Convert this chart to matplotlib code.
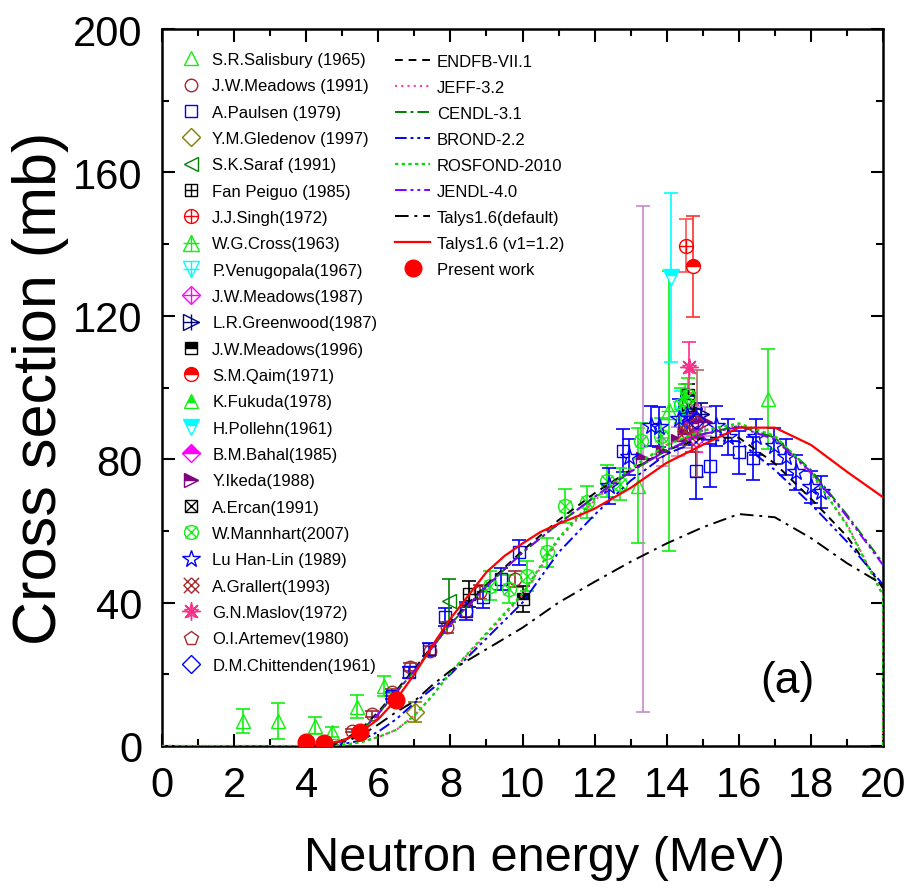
import matplotlib
matplotlib.use('Agg')
import matplotlib.pyplot as plt
from matplotlib.lines import Line2D
from matplotlib.legend_handler import HandlerTuple
from matplotlib.path import Path

FONT = ['Liberation Sans', 'DejaVu Sans']
plt.rcParams['font.family'] = FONT

# ---------------- experimental data (E in MeV, sigma in mb) ----------------
salisbury_E = [2.25, 3.23, 4.25, 4.71, 5.41, 6.15, 13.2, 16.8]
salisbury_mb = [7.0, 7.0, 5.7, 3.9, 11.0, 16.8, 72.6, 96.8]
salisbury_err = [3.3, 5.0, 2.3, 1.5, 3.2, 2.8, 16.0, 14.0]

meadows91_E = [5.27, 5.82, 6.38, 6.89, 7.44, 7.91, 8.42, 8.83, 9.8]
meadows91_mb = [4.3, 8.9, 15.0, 22.0, 26.6, 33.1, 37.7, 42.9, 46.6]
meadows91_err = [0.5, 0.8, 1.0, 1.2, 1.3, 1.5, 1.8, 2.0, 2.2]

paulsen_E = [6.38, 6.84, 7.4, 7.86, 8.42, 8.9, 9.39, 9.9, 12.8, 14.8, 15.2, 16.0, 16.4]
paulsen_mb = [14.0, 20.6, 27.0, 35.9, 37.7, 41.5, 46.6, 54.0, 82.4, 76.8, 78.2, 81.9, 80.2]
paulsen_err = [1.0, 1.5, 1.8, 2.5, 2.5, 3.0, 3.0, 3.5, 6.0, 8.0, 6.0, 6.0, 6.0]

gledenov_E = [7.03]
gledenov_mb = [9.4]
gledenov_err = [2.8]

saraf_E = [7.95]
saraf_mb = [40.5]
saraf_err = [6.0]

fan_E = [8.51, 14.6]
fan_mb = [42.4, 98.0]
fan_err = [3.7, 3.0]

singh_E = [14.53]
singh_mb = [139.6]
singh_err = [7.5]

cross_E = [14.06]
cross_mb = [93.5]
cross_err = [39.0]

venugopala_E = [14.4]
venugopala_mb = [94.0]
venugopala_err = [5.0]

meadows87_E = [14.7]
meadows87_mb = [91.0]
meadows87_err = [4.0]

greenwood_E = [14.95]
greenwood_mb = [92.6]
greenwood_err = [3.0]

meadows96_E = [10.02]
meadows96_mb = [41.0]
meadows96_err = [3.5]

qaim_E = [14.73]
qaim_mb = [133.8]
qaim_err = [14.0]

fukuda_E = [14.5]
fukuda_mb = [97.0]
fukuda_err = [4.0]

pollehn_E = [14.11]
pollehn_mb = [130.7]
pollehn_err = [23.5]

bahal_E = [14.8]
bahal_mb = [86.0]
bahal_err = [4.0]

ikeda_E = [13.35, 13.9, 14.3, 14.5, 14.8, 15.05]
ikeda_mb = [80.0, 82.0, 85.0, 87.0, 90.0, 90.5]
ikeda_err = [70.5, 4.0, 4.0, 4.0, 4.0, 4.0]

ercan_E = [14.6]
ercan_mb = [95.0]
ercan_err = [3.0]

mannhart_E = [9.11, 9.62, 10.13, 10.69, 11.18, 11.8, 12.35, 12.7, 13.28, 13.83, 14.39, 14.6]
mannhart_mb = [44.7, 43.8, 47.5, 54.0, 67.0, 68.0, 74.0, 73.0, 85.0, 86.5, 95.0, 97.7]
mannhart_err = [4.0, 4.0, 4.2, 4.0, 4.7, 4.5, 4.5, 4.5, 5.0, 5.0, 5.0, 5.0]

lu_E = [12.4, 12.95, 13.56, 13.78, 14.34, 14.57, 15.36, 15.69, 16.47, 16.98, 17.31, 17.58, 18.0, 18.28]
lu_mb = [72.6, 80.5, 89.3, 89.0, 91.2, 92.1, 89.3, 86.1, 86.1, 83.8, 80.5, 76.3, 72.2, 70.8]
lu_err = [5.0, 5.0, 5.5, 5.5, 5.5, 5.5, 5.5, 5.0, 5.0, 5.0, 5.0, 5.0, 4.5, 4.5]

grallert_E = [14.5, 14.7]
grallert_mb = [88.0, 86.0]
grallert_err = [4.0, 4.0]

maslov_E = [14.62]
maslov_mb = [105.6]
maslov_err = [7.0]

artemev_E = [14.83]
artemev_mb = [90.0]
artemev_err = [15.0]

chittenden_E = [14.8]
chittenden_mb = [91.0]
chittenden_err = [3.0]

present_E = [4.0, 4.5, 5.5, 6.5]
present_mb = [1.2, 0.9, 3.9, 12.8]

# ---------------- evaluated / calculated curves ----------------
eval_E = [4.5, 5, 5.5, 6, 6.5, 7, 7.5, 8, 9, 10, 11, 12, 13, 14, 15, 16, 17, 18, 19, 20]
endf_mb = [0, 1.5, 4.5, 9.5, 15.5, 21.5, 28, 34.5, 45, 54.5, 63, 70.5, 77, 82.5, 86, 86, 78.8, 69, 58.5, 44]
jendl_mb = [0, 1.2, 4, 9, 15, 21, 27.5, 34, 44.5, 54, 62, 69.5, 76.5, 82.5, 87, 89, 85.5, 76.5, 64, 50.5]
cendl_mb = [0, 1.2, 4, 9, 15, 21, 27.5, 34, 44.5, 54, 62, 69.5, 76.5, 82.5, 87, 89.3, 86, 77, 64.5, 51]
brond_mb = [0, 0.5, 1.5, 4, 7.5, 12, 16, 20, 30, 40, 54, 64.5, 74, 81.5, 85.5, 85, 77, 67.5, 57, 45]
tdef_mb = [0, 1, 2.8, 6, 9.5, 12.5, 17, 21, 27, 33, 40, 45.8, 51.4, 56.5, 61, 64.7, 63.8, 58, 51, 45]

low_E = [0, 4.5, 5, 5.5, 6, 6.5, 7, 7.5, 8, 9, 10, 11, 12, 13, 14, 15, 16, 17, 18, 19, 20, 20]
jeff_mb = [0, 0, 0.3, 1, 2.5, 4.5, 8.5, 14, 20.5, 31, 42, 57.5, 68.5, 77, 84, 88, 89.5, 86, 76, 62, 42, 0]
rosfond_mb = [0, 0, 0.3, 1, 2.5, 4.5, 8.5, 14, 20.5, 31.5, 42.5, 58, 69, 77.5, 84, 88, 90, 86.5, 76.5, 61.5, 42, 0]

talys_E = [3.8, 4.5, 5, 5.5, 6, 6.5, 7, 7.5, 8, 8.5, 9, 9.5, 10, 10.5, 11, 11.5, 12, 13, 14, 15, 16, 17, 18, 19, 20]
talys_mb = [0, 0.5, 1.5, 3.8, 7.5, 13, 20, 28, 35.5, 42, 48.5, 53, 56.5, 59.7, 62, 64, 66.2, 72, 79, 84, 88.8, 88.8, 84, 76.5, 69.4]

# ---------------- figure ----------------
fig = plt.figure(figsize=(9.09, 8.95), dpi=100)
ax = fig.add_axes([162 / 909, 1 - 747 / 895, 721 / 909, 717 / 895])

# custom marker for A.Grallert (crossed diamond)
grallert_marker = Path(
    [(0, 1), (1, 0), (0, -1), (-1, 0), (0, 1),
     (-1, 1), (1, -1), (-1, -1), (1, 1)],
    [Path.MOVETO, Path.LINETO, Path.LINETO, Path.LINETO, Path.LINETO,
     Path.MOVETO, Path.LINETO, Path.MOVETO, Path.LINETO])

LIME = '#10f010'
exp_sets = [
    ('S.R.Salisbury (1965)', salisbury_E, salisbury_mb, salisbury_err, LIME, LIME, [('^', 'none', 10)]),
    ('J.W.Meadows (1991)', meadows91_E, meadows91_mb, meadows91_err, '#a0282a', '#a0282a', [('o', 'none', 9)]),
    ('A.Paulsen (1979)', paulsen_E, paulsen_mb, paulsen_err, '#0000ff', '#0000ff', [('s', 'none', 8)]),
    ('Y.M.Gledenov (1997)', gledenov_E, gledenov_mb, gledenov_err, '#808000', '#808000', [('D', 'none', 9)]),
    ('S.K.Saraf (1991)', saraf_E, saraf_mb, saraf_err, '#008000', '#008000', [('<', 'none', 10)]),
    ('Fan Peiguo (1985)', fan_E, fan_mb, fan_err, 'black', 'black', [('s', 'none', 8), ('+', 'none', 8)]),
    ('J.J.Singh(1972)', singh_E, singh_mb, singh_err, '#ff0000', '#ff5050', [('o', 'none', 10), ('+', 'none', 10)]),
    ('W.G.Cross(1963)', cross_E, cross_mb, cross_err, LIME, LIME, [('^', 'none', 11), ('+', 'none', 11)]),
    ('P.Venugopala(1967)', venugopala_E, venugopala_mb, venugopala_err, '#00ffff', '#00ffff', [('v', 'none', 11), ('+', 'none', 11)]),
    ('J.W.Meadows(1987)', meadows87_E, meadows87_mb, meadows87_err, '#ff00ff', '#ff00ff', [('D', 'none', 9), ('+', 'none', 12)]),
    ('L.R.Greenwood(1987)', greenwood_E, greenwood_mb, greenwood_err, '#000080', '#000080', [('>', 'none', 11), ('+', 'none', 11)]),
    ('J.W.Meadows(1996)', meadows96_E, meadows96_mb, meadows96_err, 'black', 'black', [('s', 'top', 8)]),
    ('S.M.Qaim(1971)', qaim_E, qaim_mb, qaim_err, '#ff0000', '#ff3030', [('o', 'top', 10)]),
    ('K.Fukuda(1978)', fukuda_E, fukuda_mb, fukuda_err, LIME, LIME, [('^', 'top', 10)]),
    ('H.Pollehn(1961)', pollehn_E, pollehn_mb, pollehn_err, '#00ffff', '#00ffff', [('v', 'top', 11)]),
    ('B.M.Bahal(1985)', bahal_E, bahal_mb, bahal_err, '#ff00ff', '#ff00ff', [('D', 'top', 9)]),
    ('Y.Ikeda(1988)', ikeda_E, ikeda_mb, ikeda_err, '#800080', '#c78ac8', [('>', 'top', 10)]),
    ('A.Ercan(1991)', ercan_E, ercan_mb, ercan_err, 'black', 'black', [('s', 'none', 8), ('x', 'none', 8)]),
    ('W.Mannhart(2007)', mannhart_E, mannhart_mb, mannhart_err, LIME, LIME, [('o', 'none', 10), ('x', 'none', 8)]),
    ('Lu Han-Lin (1989)', lu_E, lu_mb, lu_err, '#0000ff', '#0000ff', [('*', 'none', 13)]),
    ('A.Grallert(1993)', grallert_E, grallert_mb, grallert_err, '#a52a2a', '#a52a2a', [(grallert_marker, 'none', 11)]),
    ('G.N.Maslov(1972)', maslov_E, maslov_mb, maslov_err, '#ff2d8a', '#ff2d8a', [((8, 2, 0), 'none', 13), ('*', 'none', 11)]),
    ('O.I.Artemev(1980)', artemev_E, artemev_mb, artemev_err, '#a52a2a', '#b06868', [('p', 'none', 10)]),
    ('D.M.Chittenden(1961)', chittenden_E, chittenden_mb, chittenden_err, '#0000ff', '#0000ff', [('D', 'none', 9)]),
]


def layer_kw(color, marker, fill, ms):
    kw = dict(marker=marker, markersize=ms, markeredgecolor=color,
              markeredgewidth=1.0, linestyle='none')
    if fill == 'none':
        kw['markerfacecolor'] = 'none'
    elif fill == 'top':
        kw.update(fillstyle='top', markerfacecolor=color, markerfacecoloralt='white')
    else:
        kw['markerfacecolor'] = color
    return kw


handles1, labels1 = [], []
for label, E, mb, err, color, ecolor, layers in exp_sets:
    ax.errorbar(E, mb, yerr=err, fmt='none', ecolor=ecolor, elinewidth=1.2,
                capsize=5, capthick=1.2, zorder=2)
    hs = []
    for marker, fill, ms in layers:
        kw = layer_kw(color, marker, fill, ms)
        ax.plot(E, mb, zorder=3, **kw)
        hs.append(Line2D([], [], **kw))
    handles1.append(tuple(hs))
    labels1.append(label)

# curves
curve_specs = [
    ('ENDFB-VII.1', eval_E, endf_mb, 'black', (0, (4, 3)), 1.4),
    ('JEFF-3.2', low_E, jeff_mb, '#ff3fa0', (0, (1, 2)), 1.5),
    ('CENDL-3.1', eval_E, cendl_mb, '#008000', (0, (6, 2, 1.5, 2)), 1.4),
    ('BROND-2.2', eval_E, brond_mb, '#0000ff', (0, (6, 2, 1.5, 2, 1.5, 2)), 1.4),
    ('ROSFOND-2010', low_E, rosfond_mb, '#00e000', (0, (1.5, 1.5)), 1.6),
    ('JENDL-4.0', eval_E, jendl_mb, '#8000ff', (0, (6, 2, 1.5, 2, 1.5, 2)), 1.4),
    ('Talys1.6(default)', eval_E, tdef_mb, 'black', (0, (7, 3, 1.5, 3)), 1.4),
    ('Talys1.6 (v1=1.2)', talys_E, talys_mb, '#ff0000', '-', 1.6),
]
handles2, labels2 = [], []
for label, E, mb, color, ls, lw in curve_specs:
    ln, = ax.plot(E, mb, color=color, linestyle=ls, linewidth=lw, zorder=4)
    handles2.append(ln)
    labels2.append(label)

ax.plot(present_E, present_mb, linestyle='none', marker='o', markersize=12,
        markerfacecolor='#ff0000', markeredgecolor='#ff0000', zorder=6)
handles2.append(Line2D([], [], linestyle='none', marker='o', markersize=12,
                       markerfacecolor='#ff0000', markeredgecolor='#ff0000'))
labels2.append('Present work')

# axes
ax.set_xlim(0, 20)
ax.set_ylim(0, 200)
ax.set_xticks(range(0, 21, 2))
ax.set_xticks(range(0, 21, 1), minor=True)
ax.set_yticks(range(0, 201, 40))
ax.set_yticks(range(0, 201, 20), minor=True)
ax.tick_params(which='both', direction='in', top=True, right=True, width=1.5)
ax.tick_params(which='major', length=9, labelsize=30, pad=14)
ax.tick_params(which='minor', length=5)
for s in ax.spines.values():
    s.set_linewidth(1.8)

ax.set_xlabel('Neutron energy (MeV)', fontsize=35)
ax.xaxis.set_label_coords((545 - 162) / 721, (747 - 836) / 717)
ax.set_ylabel('Cross section (mb)', fontsize=44)
ax.yaxis.set_label_coords((69 - 162) / 721, 0.5)

ax.text(17.35, 18.4, '(a)', fontsize=32, ha='center', va='center')

leg1 = ax.legend(handles1, labels1, loc='upper left',
                 bbox_to_anchor=(178 / 909, 1 - 53 / 895), bbox_transform=fig.transFigure,
                 frameon=False, fontsize=12, handlelength=1.6, handletextpad=0.45,
                 labelspacing=0.68, borderpad=0, borderaxespad=0,
                 handler_map={tuple: HandlerTuple(ndivide=1)})
ax.add_artist(leg1)
leg2 = ax.legend(handles2, labels2, loc='upper left',
                 bbox_to_anchor=(395 / 909, 1 - 55 / 895), bbox_transform=fig.transFigure,
                 frameon=False, fontsize=12, handlelength=2.1, handletextpad=0.4,
                 labelspacing=0.66, borderpad=0, borderaxespad=0)

fig.savefig('out.png', dpi=100)
